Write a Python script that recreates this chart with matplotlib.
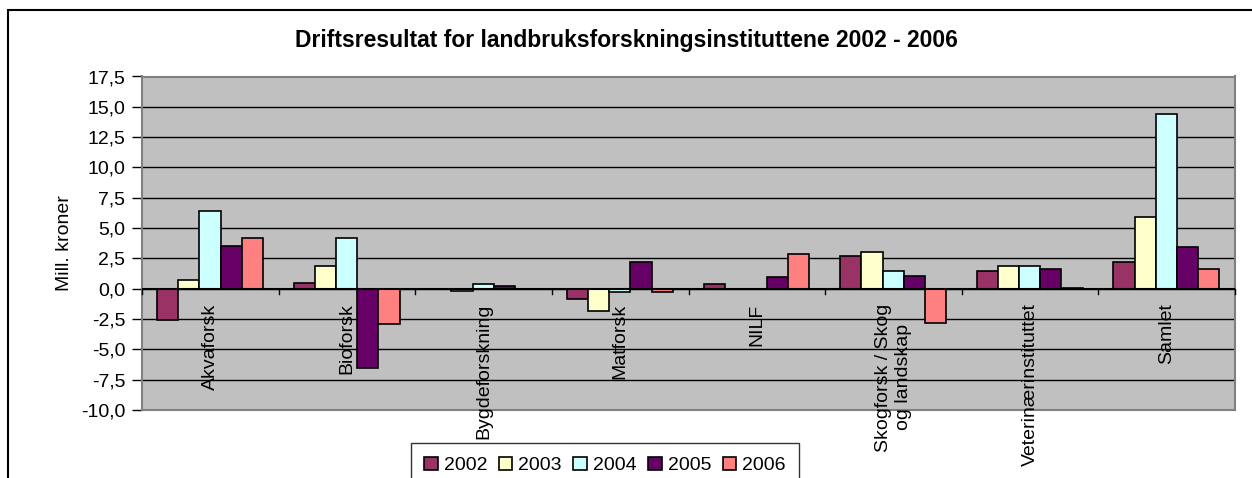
import numpy as np
import matplotlib
matplotlib.use("Agg")
import matplotlib.pyplot as plt
from matplotlib.patches import Rectangle
from matplotlib.ticker import FuncFormatter

plt.rcParams["font.family"] = ["Liberation Sans", "DejaVu Sans"]

institutter = ["Akvaforsk", "Bioforsk", "Bygdeforskning", "Matforsk", "NILF",
               "Skogforsk / Skog\nog landskap", "Veterinærinstituttet", "Samlet"]
aar = ["2002", "2003", "2004", "2005", "2006"]
verdier = {
    "2002": [-2.6, 0.5, 0.0, -0.85, 0.4, 2.7, 1.5, 2.2],
    "2003": [0.7, 1.9, -0.15, -1.8, 0.0, 3.0, 1.9, 5.9],
    "2004": [6.4, 4.2, 0.4, -0.25, 0.0, 1.5, 1.9, 14.4],
    "2005": [3.5, -6.5, 0.25, 2.2, 0.95, 1.05, 1.6, 3.4],
    "2006": [4.2, -2.9, 0.0, -0.3, 2.85, -2.8, 0.1, 1.6],
}
farger = ["#993366", "#FFFFCC", "#CCFFFF", "#660066", "#FF8080"]

fig = plt.figure(figsize=(12.52, 4.78), dpi=100)
ax = fig.add_axes([142 / 1252, 1 - 410 / 478, 1093 / 1252, 333.5 / 478])

# ramme rundt hele diagrammet
fig.patches.append(Rectangle((8 / 1252, -0.1), 1.2, 1 - 10 / 478 + 0.1,
                             transform=fig.transFigure, fill=False,
                             edgecolor="black", linewidth=1.5))

x = np.arange(len(institutter))
bredde = 0.155
for i, a in enumerate(aar):
    ax.bar(x - 0.5 + 0.11 + bredde * (i + 0.5), verdier[a], width=bredde,
           color=farger[i], edgecolor="black", linewidth=1.2, label=a,
           align="center", zorder=3)

ax.set_facecolor("#C0C0C0")
ax.set_xlim(-0.5, len(institutter) - 0.5)
ax.set_ylim(-10, 17.5)
ax.set_yticks(np.arange(-10, 17.6, 2.5))
ax.yaxis.set_major_formatter(FuncFormatter(lambda v, p: f"{v:.1f}".replace(".", ",")))
ax.yaxis.grid(True, color="black", linewidth=1)
ax.set_axisbelow(True)
for s in ax.spines.values():
    s.set_color("#808080")
    s.set_linewidth(1.5)
ax.tick_params(axis="y", labelsize=14, length=7, width=1, direction="out", pad=5)
ax.set_ylabel("Mill. kroner", fontsize=14, labelpad=6)

# x-akse på nullinjen
ax.set_xticks([])
ax.axhline(0, color="black", linewidth=1.5, zorder=4)
for k in range(len(institutter) + 1):
    ax.plot([k - 0.5, k - 0.5], [0, -0.45], color="black", linewidth=1, zorder=4,
            clip_on=False)
for k, navn in enumerate(institutter):
    ax.text(k, -1.2, navn, rotation=90, ha="center", va="top", fontsize=14,
            multialignment="center", zorder=5, clip_on=False)

fig.text(0.5, 1 - 40 / 478, "Driftsresultat for landbruksforskningsinstituttene 2002 - 2006",
         ha="center", va="center", fontsize=16.5, fontweight="bold")

leg = fig.legend(loc="upper center", bbox_to_anchor=(605 / 1252, 1 - 443 / 478),
                 ncol=5, fontsize=14, frameon=True, fancybox=False,
                 edgecolor="black", handlelength=0.7, handleheight=0.7,
                 handletextpad=0.3, columnspacing=0.6, borderpad=0.7,
                 borderaxespad=0)
leg.get_frame().set_linewidth(1)

fig.savefig("out.png", dpi=100)
